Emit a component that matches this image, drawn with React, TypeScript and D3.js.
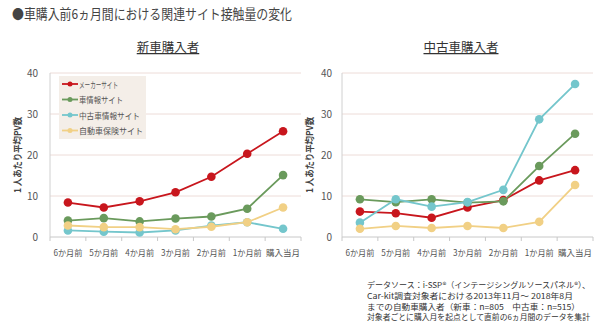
import React from "react";
import * as d3 from "d3";

const categories = ["6か月前", "5か月前", "4か月前", "3か月前", "2か月前", "1か月前", "購入当月"];
const seriesNames = ["メーカーサイト", "車情報サイト", "中古車情報サイト", "自動車保険サイト"];
const seriesColors = ["#c8161d", "#6a9a5c", "#74c6cc", "#f1d085"];
const newCarMaker = [8.4, 7.2, 8.7, 10.9, 14.7, 20.3, 25.8];
const newCarInfo = [4.0, 4.6, 3.8, 4.5, 5.0, 6.9, 15.1];
const newCarUsed = [1.6, 1.3, 1.1, 1.6, 2.8, 3.6, 2.0];
const newCarInsurance = [2.8, 2.4, 2.4, 1.9, 2.5, 3.6, 7.2];
const usedCarMaker = [6.2, 5.8, 4.7, 7.2, 9.0, 13.8, 16.3];
const usedCarInfo = [9.2, 8.5, 9.2, 8.4, 8.7, 17.3, 25.2];
const usedCarUsed = [3.5, 9.2, 7.4, 8.5, 11.5, 28.7, 37.3];
const usedCarInsurance = [2.0, 2.7, 2.2, 2.7, 2.2, 3.7, 12.7];
const yTicks = [0, 10, 20, 30, 40];
const title = "●車購入前6ヵ月間における関連サイト接触量の変化";
const panelTitles = ["新車購入者", "中古車購入者"];
const yTitle = "1 人あたり平均PV数";
const footnotes = [
  "データソース：i-SSP®（インテージシングルソースパネル®）、",
  "Car-kit調査対象者における2013年11月～ 2018年8月",
  "までの自動車購入者（新車：n=805　中古車：n=515）",
  "対象者ごとに購入月を起点として直前の6ヵ月間のデータを集計",
];

const FONT = "'Noto Sans CJK JP', 'Noto Sans', sans-serif";
const legendWidths = [39, 44, 61, 64];
const footWidths = [223, 206, 213, 223];

function Panel({ x0, x1, data, label, legend, titleX, yTitleX, yLabelX }: any) {
  const y = d3.scaleLinear().domain([0, 40]).range([237, 73]);
  const x = d3.scaleBand().domain(categories).range([x0, x1]);
  const line = d3
    .line<number>()
    .x((_, i) => (x(categories[i]) as number) + x.bandwidth() / 2)
    .y((d) => y(d));
  const ticksX = categories.map((c) => x(c) as number).concat([x1]);
  return (
    <g>
      <text x={titleX} y={52} textAnchor="middle" fontSize={12.5} fill="#333" textDecoration="underline">
        {label}
      </text>
      {yTicks.map((t) =>
        t > 0 ? (
          <line key={"g" + t} x1={x0} x2={x1} y1={y(t)} y2={y(t)} stroke="#eddcd8" strokeWidth={1} />
        ) : null
      )}
      <line x1={x0} x2={x0} y1={y(40)} y2={y(0)} stroke="#d0d0d0" />
      <line x1={x0} x2={x1} y1={y(0)} y2={y(0)} stroke="#c8c8c8" />
      {ticksX.map((tx, i) => (
        <line key={"t" + i} x1={tx} x2={tx} y1={y(0)} y2={y(0) + 4} stroke="#c8c8c8" />
      ))}
      {yTicks.map((t) => (
        <text key={"y" + t} x={yLabelX} y={y(t) + 3.5} textAnchor="end" fontSize={10} fill="#555">
          {t}
        </text>
      ))}
      {categories.map((c, i) => (
        <text
          key={c}
          x={(x(c) as number) + x.bandwidth() / 2}
          y={256}
          textAnchor="middle"
          fontSize={8.5}
          fill="#555"
          textLength={i === 6 ? 34 : 29}
          lengthAdjust="spacingAndGlyphs"
        >
          {c}
        </text>
      ))}
      <text
        transform={`translate(${yTitleX},155) rotate(-90)`}
        textAnchor="middle"
        fontSize={9.5}
        fontWeight="bold"
        fill="#444"
        textLength={76}
        lengthAdjust="spacingAndGlyphs"
      >
        {yTitle}
      </text>
      {data.map((s: number[], si: number) => (
        <g key={"s" + si}>
          <path d={line(s) as string} fill="none" stroke={seriesColors[si]} strokeWidth={1.8} />
          {s.map((v, i) => (
            <circle
              key={i}
              cx={(x(categories[i]) as number) + x.bandwidth() / 2}
              cy={y(v)}
              r={4.3}
              fill={seriesColors[si]}
            />
          ))}
        </g>
      ))}
      {legend && (
        <g>
          <rect x={59} y={76} width={87} height={63} fill="#f4eee8" />
          {seriesNames.map((n, i) => (
            <g key={n}>
              <line x1={62} x2={78} y1={84 + i * 15.5} y2={84 + i * 15.5} stroke={seriesColors[i]} strokeWidth={1.8} />
              <circle cx={70} cy={84 + i * 15.5} r={2.5} fill={seriesColors[i]} />
              <text
                x={79}
                y={84 + i * 15.5 + 3.5}
                fontSize={8.5}
                fill="#555"
                textLength={legendWidths[i]}
                lengthAdjust="spacingAndGlyphs"
              >
                {n}
              </text>
            </g>
          ))}
        </g>
      )}
    </g>
  );
}

export default function App() {
  return (
    <svg width={600} height={331} style={{ position: "absolute", left: 0, top: 0, fontFamily: FONT }}>
      <rect width={600} height={331} fill="#fff" />
      <text x={12} y={19} fontSize={13.5} fill="#444" textLength={280} lengthAdjust="spacingAndGlyphs">
        {title}
      </text>
      <Panel
        x0={50}
        x1={301}
        data={[newCarMaker, newCarInfo, newCarUsed, newCarInsurance]}
        label={panelTitles[0]}
        legend
        titleX={168}
        yTitleX={21}
        yLabelX={38}
      />
      <Panel
        x0={342}
        x1={593}
        data={[usedCarMaker, usedCarInfo, usedCarUsed, usedCarInsurance]}
        label={panelTitles[1]}
        legend={false}
        titleX={461}
        yTitleX={313}
        yLabelX={332}
      />
      {footnotes.map((f, i) => (
        <text
          key={i}
          x={367}
          y={288 + i * 10.8}
          fontSize={8}
          fill="#333"
          textLength={footWidths[i]}
          lengthAdjust="spacingAndGlyphs"
        >
          {f}
        </text>
      ))}
    </svg>
  );
}
